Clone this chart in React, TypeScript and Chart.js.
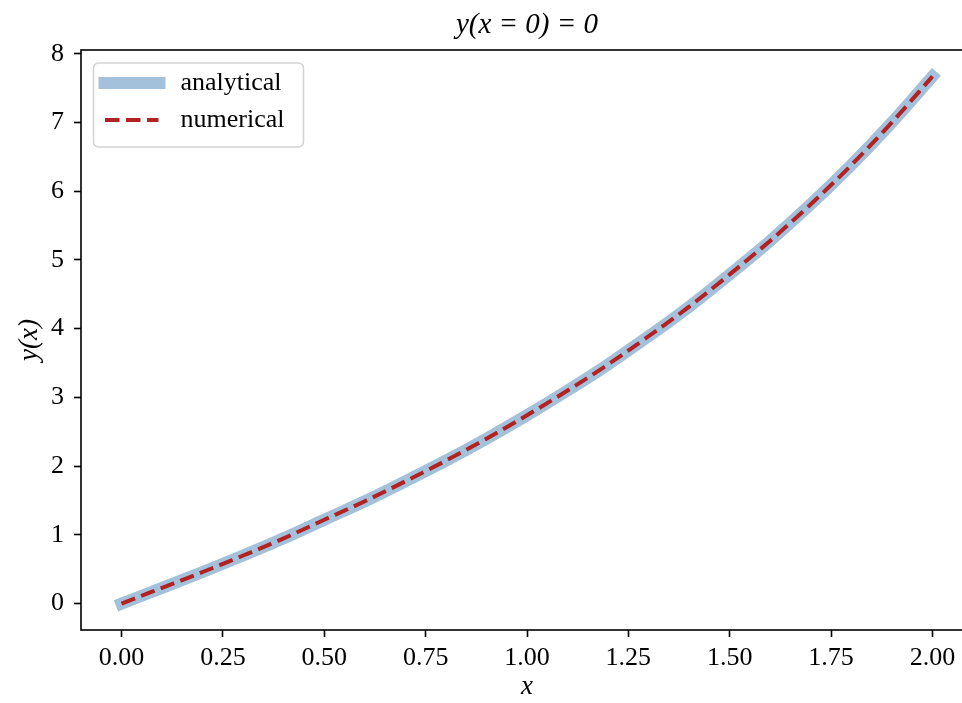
import React, { useEffect, useRef } from 'react';
import { Chart, registerables } from 'chart.js';

Chart.register(...registerables);

// ---- data ----
const xValues = [0, 0.1, 0.2, 0.3, 0.4, 0.5, 0.6, 0.7, 0.8, 0.9, 1.0, 1.1, 1.2, 1.3, 1.4, 1.5, 1.6, 1.7, 1.8, 1.9, 2.0];
const analyticalValues = [0, 0.23, 0.46, 0.7, 0.95, 1.22, 1.49, 1.78, 2.08, 2.4, 2.74, 3.1, 3.48, 3.89, 4.32, 4.79, 5.28, 5.81, 6.38, 7.0, 7.67];
const numericalValues = [0, 0.23, 0.46, 0.7, 0.95, 1.22, 1.49, 1.78, 2.08, 2.4, 2.74, 3.1, 3.48, 3.89, 4.32, 4.79, 5.28, 5.81, 6.38, 7.0, 7.67];

const xTickValues = [0, 0.25, 0.5, 0.75, 1.0, 1.25, 1.5, 1.75, 2.0];
const xTickLabels = ['0.00', '0.25', '0.50', '0.75', '1.00', '1.25', '1.50', '1.75', '2.00'];
const yTickValues = [0, 1, 2, 3, 4, 5, 6, 7, 8];
const yTickLabels = ['0', '1', '2', '3', '4', '5', '6', '7', '8'];

const xLimits = [-0.1, 2.1];
const yLimits = [-0.3835, 8.0535];

const titleText = 'y(x = 0) = 0';
const xAxisLabel = 'x';
const yAxisLabel = 'y(x)';
const seriesNames = ['analytical', 'numerical'];

const FONT = "'Liberation Serif', 'Times New Roman', serif";
const BLUE = '#a3c1da';
const RED = '#b22222';

const framePlugin = {
  id: 'frame',
  afterDatasetsDraw(chart: any) {
    const { ctx, chartArea } = chart;
    ctx.save();
    ctx.strokeStyle = '#000';
    ctx.lineWidth = 1.6;
    ctx.strokeRect(chartArea.left, chartArea.top, chartArea.right - chartArea.left, chartArea.bottom - chartArea.top);
    ctx.restore();
  },
};

const legendPlugin = {
  id: 'mplLegend',
  afterDraw(chart: any) {
    const { ctx, chartArea } = chart;
    const x0 = chartArea.left + 12.5;
    const y0 = chartArea.top + 13;
    const w = 210;
    const h = 84;
    const r = 5;
    ctx.save();
    ctx.beginPath();
    ctx.moveTo(x0 + r, y0);
    ctx.lineTo(x0 + w - r, y0);
    ctx.arcTo(x0 + w, y0, x0 + w, y0 + r, r);
    ctx.lineTo(x0 + w, y0 + h - r);
    ctx.arcTo(x0 + w, y0 + h, x0 + w - r, y0 + h, r);
    ctx.lineTo(x0 + r, y0 + h);
    ctx.arcTo(x0, y0 + h, x0, y0 + h - r, r);
    ctx.lineTo(x0, y0 + r);
    ctx.arcTo(x0, y0, x0 + r, y0, r);
    ctx.closePath();
    ctx.fillStyle = 'rgba(255,255,255,0.8)';
    ctx.fill();
    ctx.strokeStyle = '#d3d3d3';
    ctx.lineWidth = 1.5;
    ctx.stroke();

    const datasets = chart.data.datasets;
    const rows = [y0 + 20, y0 + 57];
    datasets.forEach((ds: any, i: number) => {
      const yy = rows[i];
      ctx.beginPath();
      ctx.strokeStyle = ds.borderColor;
      ctx.lineWidth = ds.borderWidth;
      ctx.lineCap = 'butt';
      if (ds.borderDash && ds.borderDash.length) {
        ctx.setLineDash(ds.borderDash);
        ctx.moveTo(x0 + 11.5, yy);
        ctx.lineTo(x0 + 65, yy);
      } else {
        ctx.setLineDash([]);
        ctx.moveTo(x0 + 5, yy);
        ctx.lineTo(x0 + 72, yy);
      }
      ctx.stroke();
      ctx.setLineDash([]);
      ctx.fillStyle = '#000';
      ctx.font = `26px ${FONT}`;
      ctx.textBaseline = 'middle';
      ctx.textAlign = 'left';
      ctx.fillText(ds.label, x0 + 87, yy);
    });
    ctx.restore();
  },
};

export default function App() {
  const canvasRef = useRef<HTMLCanvasElement | null>(null);

  useEffect(() => {
    document.body.style.margin = '0';
    const canvas = canvasRef.current;
    if (!canvas) return;

    const chart = new Chart(canvas, {
      type: 'line',
      data: {
        datasets: [
          {
            label: seriesNames[0],
            data: xValues.map((x, i) => ({ x, y: analyticalValues[i] })),
            borderColor: BLUE,
            backgroundColor: BLUE,
            borderWidth: 12,
            borderCapStyle: 'square',
            borderJoinStyle: 'round',
            pointRadius: 0,
            cubicInterpolationMode: 'monotone',
            fill: false,
            order: 2,
          },
          {
            label: seriesNames[1],
            data: xValues.map((x, i) => ({ x, y: numericalValues[i] })),
            borderColor: RED,
            backgroundColor: RED,
            borderWidth: 4,
            borderDash: [14.5, 6.5],
            borderCapStyle: 'butt',
            pointRadius: 0,
            cubicInterpolationMode: 'monotone',
            fill: false,
            order: 1,
          },
        ],
      },
      options: {
        responsive: false,
        animation: false,
        events: [],
        layout: { padding: { left: 0, right: 17, top: 0, bottom: 0 } },
        plugins: {
          legend: { display: false },
          tooltip: { enabled: false },
          title: {
            display: true,
            text: titleText,
            fullSize: false,
            color: '#000',
            font: { family: FONT, size: 29, style: 'italic', weight: 'normal', lineHeight: 1.2 },
            padding: { top: 8, bottom: 7.2 },
          },
        },
        scales: {
          x: {
            type: 'linear',
            min: xLimits[0],
            max: xLimits[1],
            afterFit(scale: any) {
              scale.height = 73;
            },
            afterBuildTicks(scale: any) {
              scale.ticks = xTickValues.map((v) => ({ value: v }));
            },
            ticks: {
              autoSkip: false,
              maxRotation: 0,
              minRotation: 0,
              padding: 6,
              color: '#000',
              font: { family: FONT, size: 26 },
              callback: (value: any) => {
                const idx = xTickValues.findIndex((v) => Math.abs(v - Number(value)) < 1e-9);
                return idx >= 0 ? xTickLabels[idx] : '';
              },
            },
            grid: {
              display: true,
              drawOnChartArea: false,
              drawTicks: true,
              tickLength: 7,
              tickWidth: 1.6,
              tickColor: '#000',
            },
            border: { display: false },
            title: {
              display: true,
              text: xAxisLabel,
              color: '#000',
              font: { family: FONT, size: 27, style: 'italic', lineHeight: 1.2 },
              padding: { top: 0, bottom: 0 },
            },
          },
          y: {
            type: 'linear',
            min: yLimits[0],
            max: yLimits[1],
            afterFit(scale: any) {
              scale.width = 81;
            },
            afterBuildTicks(scale: any) {
              scale.ticks = yTickValues.map((v) => ({ value: v }));
            },
            ticks: {
              autoSkip: false,
              padding: 10,
              color: '#000',
              font: { family: FONT, size: 26 },
              callback: (value: any) => {
                const idx = yTickValues.findIndex((v) => Math.abs(v - Number(value)) < 1e-9);
                return idx >= 0 ? yTickLabels[idx] : '';
              },
            },
            grid: {
              display: true,
              drawOnChartArea: false,
              drawTicks: true,
              tickLength: 7,
              tickWidth: 1.6,
              tickColor: '#000',
            },
            border: { display: false },
            title: {
              display: true,
              text: yAxisLabel,
              color: '#000',
              font: { family: FONT, size: 27, style: 'italic', lineHeight: 1.2 },
              padding: { top: 14, bottom: 0 },
            },
          },
        },
      },
      plugins: [framePlugin, legendPlugin],
    } as any);

    return () => {
      chart.destroy();
    };
  }, []);

  return (
    <div style={{ position: 'fixed', left: 0, top: 0, width: 962, height: 703, overflow: 'hidden', background: '#fff' }}>
      <canvas ref={canvasRef} width={990} height={703} style={{ display: 'block', width: 990, height: 703 }} />
    </div>
  );
}
